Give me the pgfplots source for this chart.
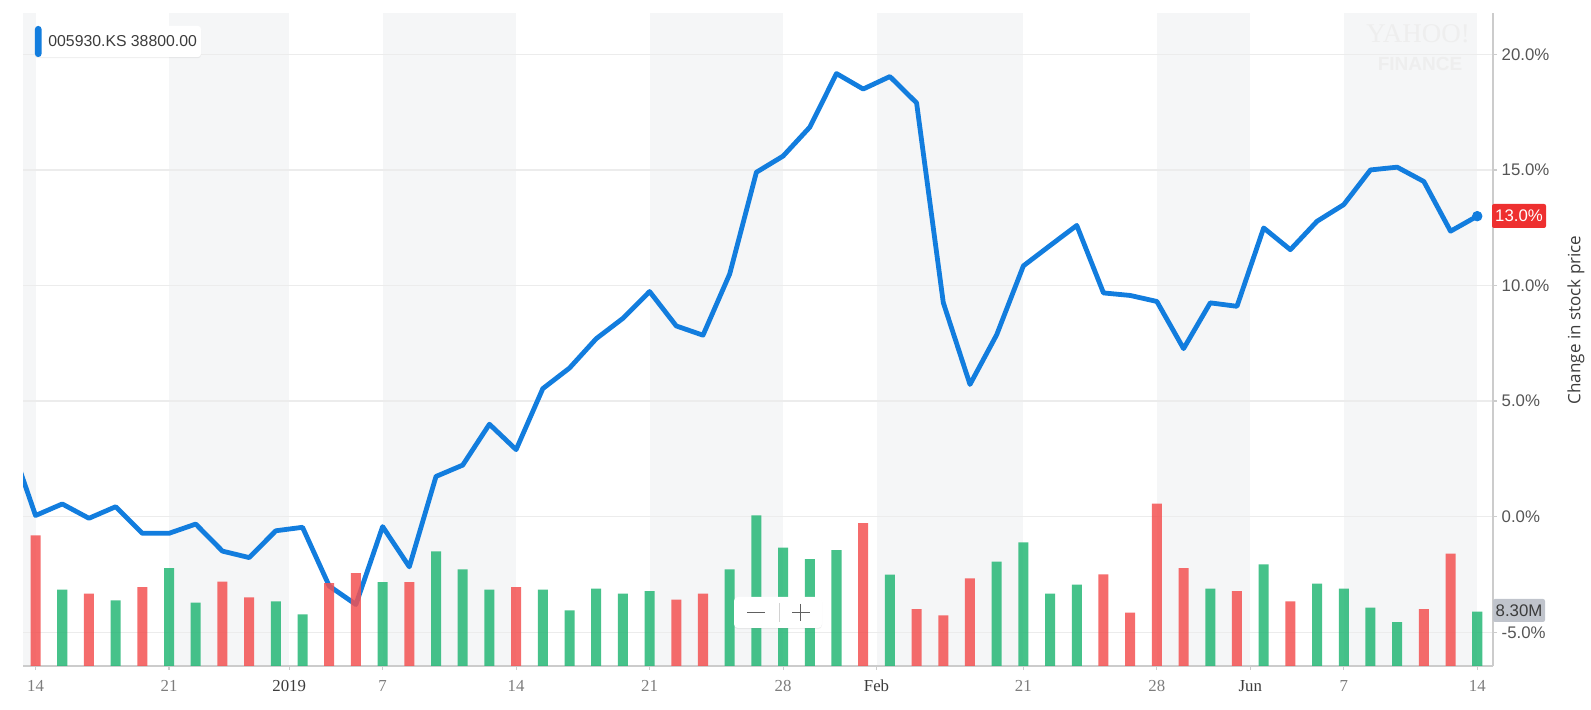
\documentclass[border=0pt]{standalone}
\usepackage{pgfplots}
\pgfplotsset{compat=1.18}
\usepackage{pgfplotstable}
\usepackage{fontspec}
\setmainfont{Liberation Sans}
\newfontfamily\serifx{Liberation Serif}
\newfontfamily\opensans{Open Sans}
\usetikzlibrary{shadows}

\definecolor{lineblue}{RGB}{18,125,222}
\definecolor{band}{RGB}{245,246,247}
\definecolor{gridc}{RGB}{236,236,236}
\definecolor{axc}{RGB}{204,204,204}
\definecolor{barred}{RGB}{243,82,82}
\definecolor{bargreen}{RGB}{38,183,118}
\definecolor{ticktxt}{RGB}{85,85,85}
\definecolor{xtxt}{RGB}{125,125,125}
\definecolor{xdark}{RGB}{60,60,60}
\definecolor{tagred}{RGB}{238,48,48}
\definecolor{taggray}{RGB}{192,196,204}

\pgfplotstableread{
i v
-1 3.4
0 0.05
1 0.55
2 -0.07
3 0.43
4 -0.72
5 -0.72
6 -0.32
7 -1.49
8 -1.77
9 -0.61
10 -0.46
11 -3.0
12 -3.8
13 -0.43
14 -2.17
15 1.74
16 2.23
17 4.0
18 2.9
19 5.54
20 6.43
21 7.7
22 8.58
23 9.74
24 8.25
25 7.85
26 10.5
27 14.9
28 15.6
29 16.85
30 19.17
31 18.5
32 19.04
33 17.9
34 9.26
35 5.72
36 7.87
37 10.85
38 11.73
39 12.6
40 9.68
41 9.57
42 9.31
43 7.27
44 9.25
45 9.1
46 12.49
47 11.55
48 12.78
49 13.5
50 15.0
51 15.12
52 14.5
53 12.35
54 13.0
}\pricetable

\pgfplotstableread{
i v
0 19.96
2 11.05
4 12.07
7 12.88
8 10.49
11 12.68
12 14.21
14 12.83
18 12.07
24 10.13
25 11.05
31 21.85
33 8.71
34 7.74
35 13.39
40 14.00
41 8.15
42 24.80
43 14.97
45 11.46
47 9.88
52 8.71
53 17.16
}\redvol

\pgfplotstableread{
i v
1 11.66
3 10.03
5 14.97
6 9.67
9 9.88
10 7.89
13 12.83
15 17.52
16 14.77
17 11.66
19 11.66
20 8.50
21 11.81
22 11.05
23 11.46
26 14.77
27 23.02
28 18.08
29 16.35
30 17.72
32 13.95
36 15.94
37 18.89
38 11.05
39 12.42
44 11.81
46 15.53
48 12.58
49 11.81
50 8.91
51 6.72
54 8.30
}\greenvol

\pgfplotsset{base/.style={at={(0,0)}, anchor=south west, width=735pt, height=326.5pt,
  scale only axis, xmin=-0.47, xmax=54.59}}

\begin{document}
\begin{tikzpicture}
\path[use as bounding box] (-11.5pt,-22pt) rectangle (784pt,333pt);

% background bands
\begin{axis}[base, ymin=-6.46, ymax=21.79, hide axis]
\addplot[draw=none] coordinates {(0,0)};
\fill[band] (axis cs:-0.47,-6.46) rectangle (axis cs:0,21.79);
\fill[band] (axis cs:5,-6.46) rectangle (axis cs:9.5,21.79);
\fill[band] (axis cs:13,-6.46) rectangle (axis cs:18,21.79);
\fill[band] (axis cs:23,-6.46) rectangle (axis cs:28,21.79);
\fill[band] (axis cs:31.5,-6.46) rectangle (axis cs:37,21.79);
\fill[band] (axis cs:42,-6.46) rectangle (axis cs:45.5,21.79);
\fill[band] (axis cs:49,-6.46) rectangle (axis cs:54,21.79);
\end{axis}

% price line
\begin{axis}[base, ymin=-6.46, ymax=21.79,
  axis x line*=bottom, axis y line*=right,
  axis line style={axc, line width=0.6pt},
  ytick={-5,0,5,10,15,20},
  ymajorgrids, grid style={gridc, line width=0.6pt},
  xtick={0,5,9.5,13,18,23,28,31.5,37,42,45.5,49,54},
  xticklabels={14,21,\textcolor{xdark}{2019},7,14,21,28,\textcolor{xdark}{Feb},21,28,\textcolor{xdark}{Jun},7,14},
  tick style={axc, line width=0.6pt},
  tick align=outside, major tick length=2pt,
  xticklabel style={font=\serifx\fontsize{8.4}{10}\selectfont, text=xtxt, yshift=-1.5pt},
  yticklabel style={font=\fontsize{8.4}{10}\selectfont, text=ticktxt, anchor=west, xshift=-1.2pt},
  yticklabel={\pgfmathprintnumber[fixed,fixed zerofill,precision=1,assume math mode=true]{\tick}\%},
]
\addplot[lineblue, line width=2.4pt, line join=round, line cap=round] table[x=i,y=v]{\pricetable};
\addplot[only marks, mark=*, mark size=2.4pt, lineblue] coordinates {(54,13.0)};
\end{axis}

% volume bars
\begin{axis}[base, ymin=0, ymax=99.8, hide axis, ybar, bar width=0.375, bar shift=0pt]
\addplot[fill=barred, draw=none, fill opacity=0.85] table[x=i,y=v]{\redvol};
\addplot[fill=bargreen, draw=none, fill opacity=0.85] table[x=i,y=v]{\greenvol};
\end{axis}

% annotations in reference pixel coordinates
\begin{scope}[shift={(-11.5pt,333pt)}, x=0.5pt, y=-0.5pt]
  % legend
  \fill[white, rounded corners=1.5pt, drop shadow={shadow xshift=0pt, shadow yshift=-0.6pt, opacity=0.12}] (35,26) rectangle (201,57);
  \fill[lineblue, rounded corners=1.5pt] (35,26) rectangle (41.5,57);
  \node[anchor=west, text=xdark, font=\fontsize{7.9}{9}\selectfont, inner sep=0] at (48,41.5) {005930.KS 38800.00};
  % watermark
  \node[text=gray!13, font=\serifx\fontsize{13.5}{13.5}\selectfont] at (1418,34) {YAHOO!};
  \node[text=gray!13, font=\bfseries\fontsize{9.5}{10}\selectfont] at (1420,63.5) {FINANCE};
  % value tags
  \fill[tagred, rounded corners=1pt] (1492,204) rectangle (1546,228);
  \node[text=white, font=\fontsize{8.4}{10}\selectfont] at (1519,216) {13.0\%};
  \fill[taggray, rounded corners=1pt] (1493,599) rectangle (1545,622);
  \node[text=xdark, font=\fontsize{8.4}{10}\selectfont] at (1519,610.5) {8.30M};
  % zoom control
  \fill[white, rounded corners=2pt, drop shadow={shadow xshift=0pt, shadow yshift=-0.6pt, opacity=0.12}] (734,597) rectangle (822,628);
  \draw[gray!35, line width=0.4pt] (779.6,603) -- (779.6,622);
  \draw[gray!75!black, line width=0.7pt] (747,612.5) -- (765,612.5);
  \draw[gray!75!black, line width=0.7pt] (792,612.5) -- (809.5,612.5);
  \draw[gray!75!black, line width=0.7pt] (800.7,604) -- (800.7,621);
  % axis title
  \node[rotate=90, font=\opensans\fontsize{8.5}{10}\selectfont, text=xdark] at (1576,320) {Change in stock price};
\end{scope}
\end{tikzpicture}
\end{document}
